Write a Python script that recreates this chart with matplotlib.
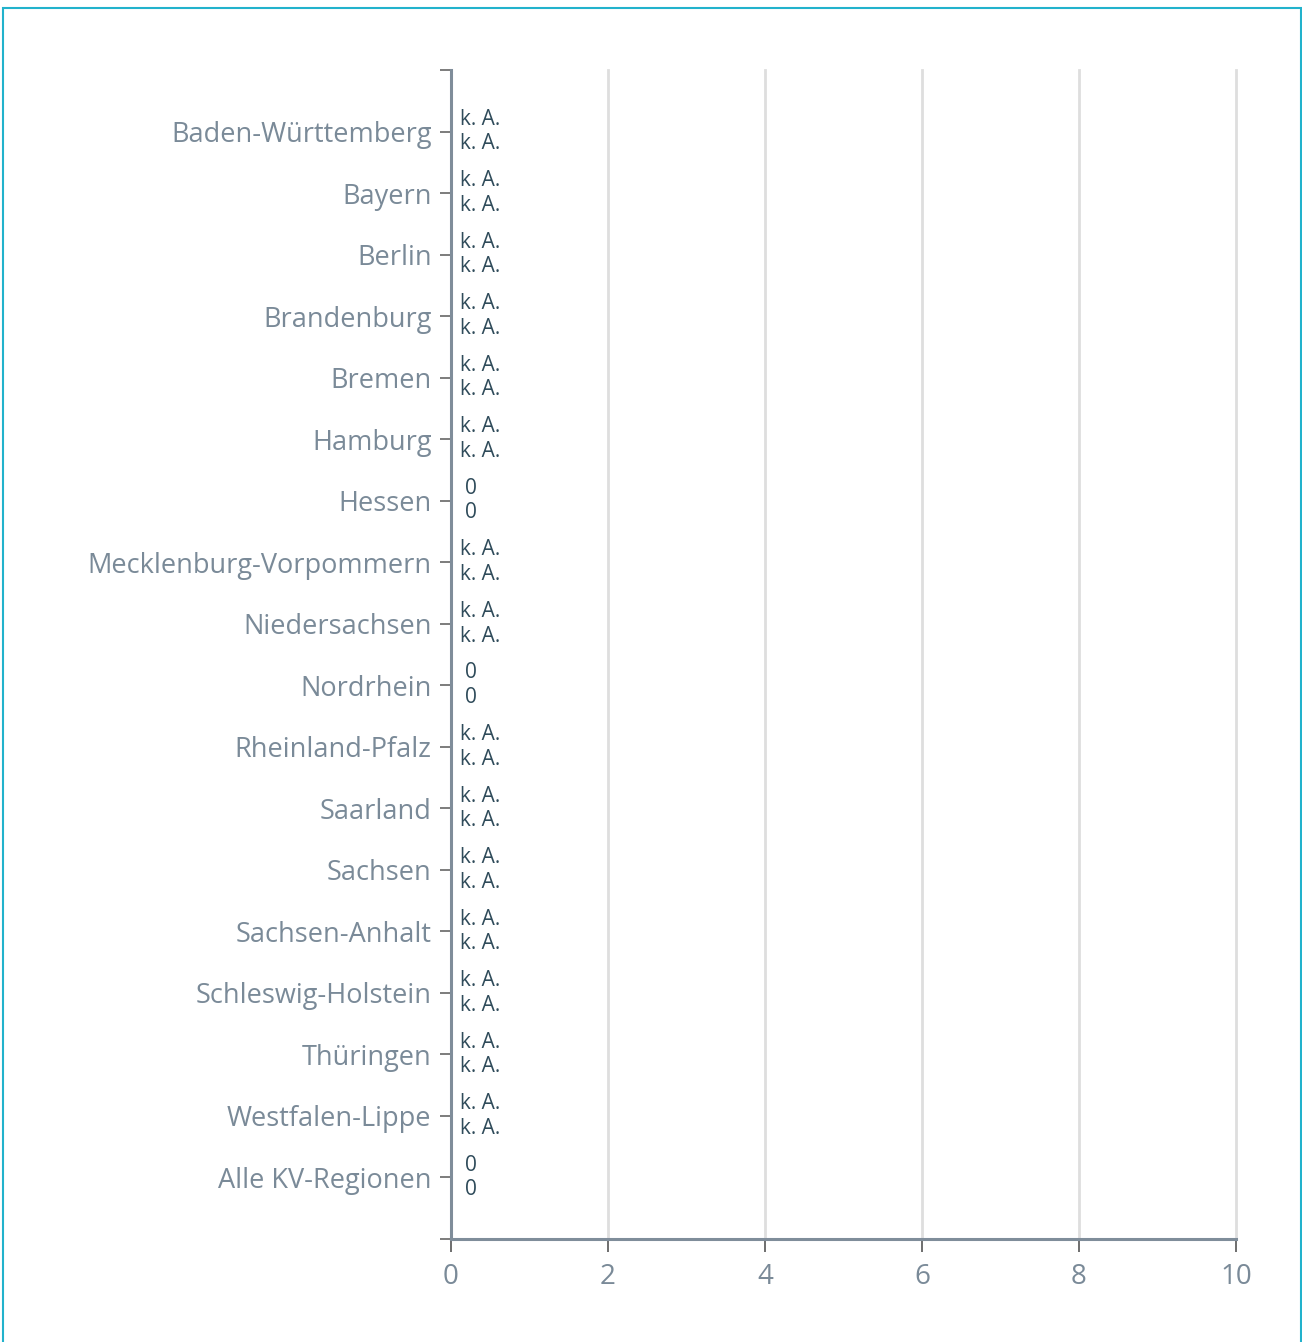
import numpy as np
import matplotlib.pyplot as plt
from matplotlib.patches import Rectangle

regionen = ["Baden-Württemberg", "Bayern", "Berlin", "Brandenburg", "Bremen",
            "Hamburg", "Hessen", "Mecklenburg-Vorpommern", "Niedersachsen",
            "Nordrhein", "Rheinland-Pfalz", "Saarland", "Sachsen",
            "Sachsen-Anhalt", "Schleswig-Holstein", "Thüringen",
            "Westfalen-Lippe", "Alle KV-Regionen"]
# None = keine Angabe (k. A.)
serie_1 = [None, None, None, None, None, None, 0, None, None, 0,
           None, None, None, None, None, None, None, 0]
serie_2 = [None, None, None, None, None, None, 0, None, None, 0,
           None, None, None, None, None, None, None, 0]
x_ticks = [0, 2, 4, 6, 8, 10]

plt.rcParams['font.family'] = ['Open Sans', 'DejaVu Sans']

achse_farbe = "#7f8d9a"
text_farbe = "#7a8a98"
wert_farbe = "#2f4b5a"

fig = plt.figure(figsize=(13.02, 13.42), dpi=100)
ax = fig.add_axes([451 / 1302, 1 - 1239 / 1342, (1236 - 451) / 1302, (1239 - 70) / 1342])

y = np.arange(len(regionen))
versatz = 0.2
for werte, dy in [(serie_1, -versatz), (serie_2, versatz)]:
    breiten = [0 if v is None else v for v in werte]
    ax.barh(y + dy, breiten, height=0.38, color="#4a90c0")
    for yi, v in zip(y, werte):
        if v is None:
            ax.annotate("k. A.", (0, yi + dy), xytext=(6.5, 0), textcoords="offset points",
                        ha="left", va="center", fontsize=15, color=wert_farbe)
        else:
            ax.annotate(f"{v:g}", (0, yi + dy), xytext=(10, 0), textcoords="offset points",
                        ha="left", va="center", fontsize=15, color=wert_farbe)

ax.set_xlim(0, 10)
ax.set_ylim(len(regionen), -1)
ax.set_yticks(y)
ax.set_yticklabels(regionen)
ax.set_yticks([-1, len(regionen)], minor=True)
ax.set_xticks(x_ticks)

ax.grid(axis="x", color="#dedede", linewidth=2)
for g in ax.get_xgridlines():
    g.set_clip_on(False)
ax.set_axisbelow(True)
for s in ["top", "right"]:
    ax.spines[s].set_visible(False)
for s in ["left", "bottom"]:
    ax.spines[s].set_color(achse_farbe)
    ax.spines[s].set_linewidth(2.2)

ax.tick_params(axis="y", which="both", length=8, width=1.2, color="#666666",
               labelsize=19.5, labelcolor=text_farbe, pad=6)
ax.tick_params(axis="x", length=9, width=1.2, color="#555555",
               labelsize=20, labelcolor=text_farbe, pad=8)

# Rahmen um die Grafik
fig.patches.append(Rectangle((3 / 1302, -0.05), (1301 - 3) / 1302, 1.05 - 8 / 1342,
                             transform=fig.transFigure, fill=False,
                             edgecolor="#22b2cc", linewidth=1.5, clip_on=False))

fig.savefig("out.png", dpi=100)
